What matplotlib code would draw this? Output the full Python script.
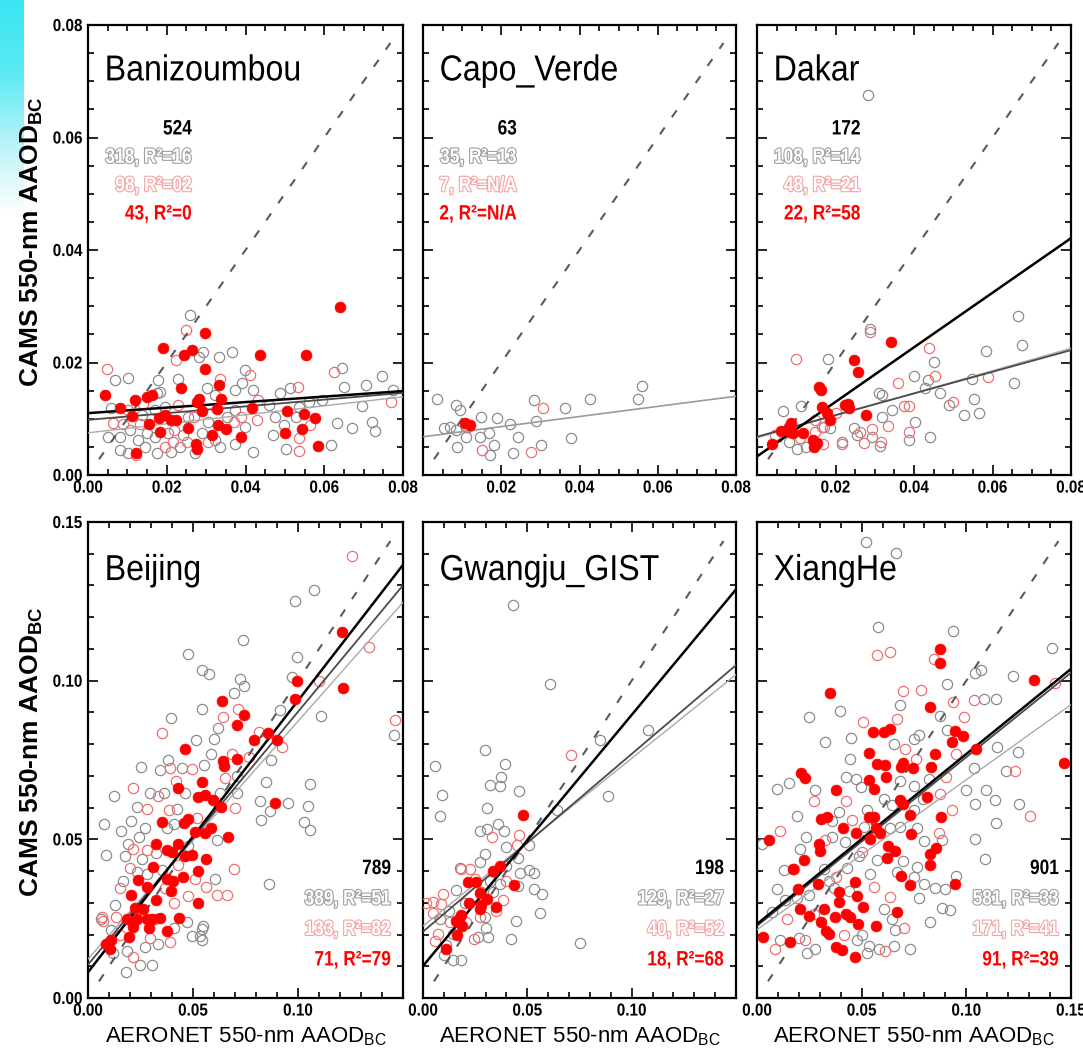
import numpy as np
import matplotlib
matplotlib.use("Agg")
import matplotlib.pyplot as plt
import matplotlib.patheffects as pe
from matplotlib.transforms import Affine2D
from matplotlib.ticker import MultipleLocator, FixedLocator
from matplotlib.colors import LinearSegmentedColormap

# ---------------- data ----------------
site_names = ["Banizoumbou", "Capo_Verde", "Dakar", "Beijing", "Gwangju_GIST", "XiangHe"]

bani_gray = [(0.0259,0.0284),(0.0365,0.0219),(0.0333,0.0210),(0.0293,0.0219),(0.0282,0.0210),(0.0102,0.0173),
             (0.0068,0.0169),(0.0228,0.0170),(0.0399,0.0187),(0.0645,0.0190),(0.0746,0.0176),(0.0705,0.0160),
             (0.0775,0.0151),(0.0650,0.0156),(0.0514,0.0154),(0.0488,0.0145),(0.0374,0.0151),(0.0420,0.0152),
             (0.0301,0.0154),(0.0183,0.0148),(0.0594,0.0133),(0.0696,0.0123),(0.0633,0.0092),(0.0671,0.0083),
             (0.0722,0.0095),(0.0729,0.0079),(0.0618,0.0053),(0.0471,0.0071),(0.0503,0.0046),(0.0420,0.0041),
             (0.0374,0.0056),(0.0323,0.0062),(0.0399,0.0086),(0.0476,0.0104),(0.0497,0.0089),(0.0081,0.0044),
             (0.0102,0.0039),(0.0127,0.0062),(0.0144,0.0050),(0.0174,0.0039),(0.0081,0.0068),(0.0051,0.0068),
             (0.0149,0.0074),(0.0106,0.0080),(0.0170,0.0068),(0.0204,0.0074),(0.0242,0.0071),(0.0289,0.0074),
             (0.0255,0.0104),(0.0306,0.0095),(0.0352,0.0104),(0.0374,0.0116),(0.0195,0.0121),(0.0170,0.0116),
             (0.0136,0.0107),(0.0059,0.0119),(0.0459,0.0124),(0.0535,0.0121),(0.0561,0.0130),(0.0527,0.0104),
             (0.0335,0.0050),(0.0234,0.0050),(0.0212,0.0041),(0.0272,0.0039),(0.0178,0.0169),(0.0174,0.0145),
             (0.0391,0.0163),(0.0323,0.0142)]
bani_pink = [(0.0248,0.0258),(0.0048,0.0188),(0.0223,0.0204),(0.0625,0.0184),(0.0533,0.0157),(0.0769,0.0129),
             (0.0411,0.0178),(0.0433,0.0133),(0.0229,0.0124),(0.0064,0.0092),(0.0089,0.0091),(0.0132,0.0091),
             (0.0219,0.0080),(0.0268,0.0104),(0.0370,0.0095),(0.0389,0.0104),(0.0429,0.0097),(0.0565,0.0089),
             (0.0195,0.0050),(0.0217,0.0059),(0.0251,0.0059),(0.0304,0.0059),(0.0537,0.0066),(0.0537,0.0043),
             (0.0334,0.0170),(0.0123,0.0036),(0.0102,0.0116),(0.0140,0.0127)]
bani_red = [(0.0639,0.0298),(0.0297,0.0253),(0.0191,0.0225),(0.0244,0.0213),(0.0265,0.0222),(0.0437,0.0213),
            (0.0554,0.0213),(0.0296,0.0188),(0.0044,0.0142),(0.0235,0.0155),(0.0333,0.0160),(0.0119,0.0133),
            (0.0151,0.0138),(0.0163,0.0142),(0.0082,0.0119),(0.0283,0.0136),(0.0276,0.0130),(0.0337,0.0135),
            (0.0113,0.0105),(0.0290,0.0114),(0.0327,0.0117),(0.0416,0.0120),(0.0505,0.0114),(0.0548,0.0108),
            (0.0576,0.0102),(0.0180,0.0101),(0.0195,0.0107),(0.0212,0.0098),(0.0223,0.0098),(0.0155,0.0090),
            (0.0330,0.0089),(0.0253,0.0083),(0.0351,0.0081),(0.0183,0.0077),(0.0316,0.0072),(0.0389,0.0068),
            (0.0501,0.0074),(0.0544,0.0081),(0.0274,0.0056),(0.0277,0.0047),(0.0584,0.0052),(0.0121,0.0040)]
bani_fit = [(0.0110, 0.049), (0.0098, 0.060), (0.0075, 0.080)]
bani_stats = ["524", "318, R\u00b2=16", "98, R\u00b2=02", "43, R\u00b2=0"]

capo_gray = [(0.0037,0.0136),(0.0084,0.0124),(0.0094,0.0116),(0.0054,0.0084),(0.0084,0.0080),(0.0086,0.0050),
             (0.0111,0.0068),(0.0148,0.0103),(0.0145,0.0068),(0.0169,0.0074),(0.0170,0.0036),(0.0182,0.0053),
             (0.0188,0.0101),(0.0223,0.0090),(0.0243,0.0067),(0.0230,0.0040),(0.0284,0.0133),(0.0288,0.0096),
             (0.0301,0.0053),(0.0362,0.0120),(0.0377,0.0066),(0.0428,0.0135),(0.0549,0.0136),(0.0561,0.0158),
             (0.0069,0.0086),(0.0111,0.0086)]
capo_pink = [(0.0307,0.0120),(0.0152,0.0044),(0.0275,0.0041),(0.0115,0.0086)]
capo_red = [(0.0107,0.0093),(0.0120,0.0089)]
capo_fit = [(0.0068, 0.090)]
capo_stats = ["63", "35, R\u00b2=13", "7, R\u00b2=N/A", "2, R\u00b2=N/A"]

dakar_gray = [(0.0665,0.0283),(0.0675,0.0232),(0.0584,0.0220),(0.0450,0.0201),(0.0401,0.0176),(0.0435,0.0169),
              (0.0465,0.0145),(0.0548,0.0171),(0.0656,0.0164),(0.0554,0.0136),(0.0565,0.0111),(0.0527,0.0107),
              (0.0488,0.0124),(0.0429,0.0154),(0.0310,0.0145),(0.0318,0.0142),(0.0344,0.0116),(0.0403,0.0095),
              (0.0442,0.0067),(0.0386,0.0062),(0.0318,0.0104),(0.0289,0.0260),(0.0180,0.0206),(0.0112,0.0123),
              (0.0066,0.0114),(0.0170,0.0086),(0.0187,0.0083),(0.0126,0.0050),(0.0102,0.0047),(0.0081,0.0059),
              (0.0255,0.0071),(0.0246,0.0083),(0.0314,0.0052),(0.0217,0.0059),(0.0293,0.0068),(0.0282,0.0676)]
dakar_pink = [(0.0100,0.0207),(0.0287,0.0255),(0.0439,0.0225),(0.0453,0.0176),(0.0358,0.0163),(0.0499,0.0130),
              (0.0588,0.0174),(0.0374,0.0123),(0.0386,0.0123),(0.0386,0.0077),(0.0333,0.0087),(0.0293,0.0081),
              (0.0263,0.0077),(0.0272,0.0057),(0.0316,0.0059),(0.0217,0.0055),(0.0168,0.0056),(0.0200,0.0110),
              (0.0149,0.0098),(0.0166,0.0086),(0.0149,0.0077),(0.0110,0.0065),(0.0047,0.0071)]
dakar_red = [(0.0341,0.0236),(0.0248,0.0204),(0.0257,0.0184),(0.0157,0.0157),(0.0163,0.0151),(0.0166,0.0121),
             (0.0178,0.0111),(0.0187,0.0097),(0.0231,0.0127),(0.0234,0.0119),(0.0278,0.0107),(0.0087,0.0092),
             (0.0085,0.0077),(0.0061,0.0079),(0.0092,0.0074),(0.0117,0.0075),(0.0143,0.0063),(0.0144,0.0050),
             (0.0038,0.0055),(0.0153,0.0057),(0.0225,0.0124),(0.0081,0.0086)]
dakar_fit = [(0.0033, 0.485), (0.0068, 0.1925), (0.0066, 0.199)]
dakar_stats = ["172", "108, R\u00b2=14", "48, R\u00b2=21", "22, R\u00b2=58"]

beij_gray = [(0.1078,0.1287),(0.0987,0.1251),(0.0736,0.1129),(0.0475,0.1083),(0.0545,0.1033),(0.0577,0.1022),
             (0.0995,0.1074),(0.0971,0.1011),(0.0725,0.1005),(0.0741,0.0983),(0.0693,0.0961),(0.0545,0.0912),
             (0.0393,0.0881),(0.0621,0.0851),(0.0513,0.0814),(0.0602,0.0815),(0.0586,0.0770),(0.0913,0.0906),
             (0.1110,0.0889),(0.1457,0.0828),(0.0873,0.0751),(0.0847,0.0681),(0.0820,0.0621),(0.0868,0.0588),
             (0.0952,0.0613),(0.1059,0.0674),(0.1046,0.0604),(0.1027,0.0555),(0.1056,0.0530),(0.0825,0.0560),
             (0.0863,0.0359),(0.0252,0.0729),(0.0342,0.0718),(0.0382,0.0751),(0.0446,0.0724),(0.0554,0.0735),
             (0.0124,0.0635),(0.0076,0.0547),(0.0088,0.0452),(0.0159,0.0526),(0.0207,0.0558),(0.0231,0.0602),
             (0.0295,0.0646),(0.0363,0.0646),(0.0422,0.0597),(0.0462,0.0646),(0.0411,0.0547),(0.0244,0.0508),
             (0.0175,0.0447),(0.0255,0.0437),(0.0326,0.0458),(0.0374,0.0536),(0.0271,0.0536),(0.0191,0.0486),
             (0.0231,0.0398),(0.0167,0.0370),(0.0283,0.0392),(0.0350,0.0403),(0.0478,0.0480),(0.0613,0.0497),
             (0.0605,0.0376),(0.0709,0.0646),(0.0629,0.0646),(0.0709,0.0701),(0.0549,0.0226),(0.0545,0.0182),
             (0.0470,0.0238),(0.0411,0.0221),(0.0334,0.0171),(0.0271,0.0160),(0.0188,0.0149),(0.0127,0.0292),
             (0.0207,0.0249),(0.0319,0.0249),(0.0111,0.0215),(0.0064,0.0249),(0.0180,0.0081),(0.0247,0.0103),
             (0.0303,0.0103),(0.0119,0.0141),(0.0533,0.0195),(0.0541,0.0219),(0.0494,0.0195)]
beij_pink = [(0.1258,0.1392),(0.1338,0.1105),(0.1099,0.0998),(0.1462,0.0876),(0.0815,0.0839),(0.0924,0.0792),
             (0.0768,0.0759),(0.0354,0.0834),(0.0642,0.0887),(0.0712,0.0912),(0.0688,0.0770),(0.0650,0.0692),
             (0.0497,0.0721),(0.0390,0.0724),(0.0417,0.0685),(0.0215,0.0663),(0.0283,0.0597),(0.0331,0.0635),
             (0.0385,0.0591),(0.0701,0.0600),(0.0518,0.0566),(0.0215,0.0469),(0.0279,0.0467),(0.0430,0.0420),
             (0.0199,0.0409),(0.0693,0.0405),(0.0510,0.0376),(0.0561,0.0350),(0.0154,0.0348),(0.0613,0.0324),
             (0.0661,0.0325),(0.0478,0.0320),(0.0411,0.0298),(0.0135,0.0254),(0.0151,0.0199),(0.0295,0.0188),
             (0.0067,0.0254),(0.0366,0.0348),(0.0390,0.0177),(0.0215,0.0129),(0.0072,0.0242)]
beij_red = [(0.1210,0.1152),(0.0995,0.0998),(0.1214,0.0976),(0.0987,0.0942),(0.0637,0.0937),(0.0744,0.0892),
            (0.0709,0.0860),(0.0792,0.0812),(0.0857,0.0834),(0.0900,0.0812),(0.0462,0.0784),(0.0642,0.0746),
            (0.0648,0.0731),(0.0709,0.0753),(0.0430,0.0661),(0.0541,0.0681),(0.0522,0.0633),(0.0557,0.0640),
            (0.0594,0.0624),(0.0632,0.0602),(0.0892,0.0613),(0.0354,0.0555),(0.0475,0.0563),(0.0459,0.0550),
            (0.0510,0.0523),(0.0557,0.0519),(0.0584,0.0536),(0.0666,0.0508),(0.0326,0.0486),(0.0377,0.0467),
            (0.0398,0.0461),(0.0427,0.0486),(0.0462,0.0447),(0.0497,0.0450),(0.0562,0.0437),(0.0311,0.0414),
            (0.0526,0.0400),(0.0377,0.0376),(0.0406,0.0370),(0.0451,0.0381),(0.0236,0.0372),(0.0283,0.0350),
            (0.0207,0.0325),(0.0395,0.0337),(0.0223,0.0284),(0.0263,0.0281),(0.0326,0.0309),(0.0526,0.0300),
            (0.0279,0.0249),(0.0307,0.0249),(0.0342,0.0251),(0.0433,0.0251),(0.0188,0.0250),(0.0231,0.0249),
            (0.0215,0.0223),(0.0290,0.0221),(0.0374,0.0210),(0.0194,0.0193),(0.0111,0.0182),(0.0088,0.0171),
            (0.0104,0.0154)]
beij_fit = [(0.0081, 0.856), (0.0105, 0.797), (0.0123, 0.749)]
beij_stats = ["789", "389, R\u00b2=51", "133, R\u00b2=82", "71, R\u00b2=79"]

gwan_gray = [(0.0432,0.1238),(0.0611,0.0990),(0.1076,0.0844),(0.0848,0.0813),(0.0888,0.0638),(0.0296,0.0783),
             (0.0056,0.0730),(0.0395,0.0737),(0.0373,0.0698),(0.0093,0.0641),(0.0323,0.0670),(0.0368,0.0668),
             (0.0080,0.0575),(0.0461,0.0652),(0.0309,0.0599),(0.0644,0.0594),(0.0275,0.0527),(0.0307,0.0531),
             (0.0360,0.0548),(0.0387,0.0525),(0.0296,0.0455),(0.0400,0.0477),(0.0456,0.0441),(0.0509,0.0483),
             (0.0507,0.0403),(0.0533,0.0393),(0.0531,0.0343),(0.0568,0.0328),(0.0560,0.0268),(0.0445,0.0244),
             (0.0424,0.0185),(0.0752,0.0173),(0.0176,0.0411),(0.0272,0.0429),(0.0160,0.0340),(0.0200,0.0298),
             (0.0125,0.0274),(0.0080,0.0250),(0.0144,0.0203),(0.0101,0.0137),(0.0144,0.0119),(0.0184,0.0119),
             (0.0264,0.0191),(0.0304,0.0221),(0.0312,0.0191),(0.0296,0.0256),(0.0336,0.0334),(0.0368,0.0358),
             (0.0464,0.0393),(0.0400,0.0417),(0.0320,0.0370),(0.0280,0.0334),(0.0112,0.0167),(0.0456,0.0352)]
gwan_pink = [(0.0709,0.0765),(0.0461,0.0513),(0.0449,0.0483),(0.0333,0.0507),(0.0184,0.0405),(0.0224,0.0405),
             (0.0248,0.0376),(0.0096,0.0328),(0.0048,0.0304),(0.0013,0.0298),(0.0088,0.0296),(0.0048,0.0268),
             (0.0400,0.0370),(0.0384,0.0310),(0.0352,0.0274),(0.0272,0.0256),(0.0208,0.0238),(0.0128,0.0238),
             (0.0056,0.0179),(0.0243,0.0185),(0.0072,0.0203)]
gwan_red = [(0.0480,0.0576),(0.0371,0.0417),(0.0336,0.0399),(0.0437,0.0355),(0.0216,0.0364),(0.0253,0.0364),
            (0.0272,0.0330),(0.0307,0.0312),(0.0219,0.0298),(0.0272,0.0280),(0.0352,0.0286),(0.0157,0.0244),
            (0.0184,0.0262),(0.0189,0.0227),(0.0163,0.0197),(0.0109,0.0155),(0.0173,0.0250),(0.0280,0.0292)]
gwan_fit = [(0.0101, 0.791), (0.0209, 0.560), (0.0227, 0.528)]
gwan_stats = ["198", "129, R\u00b2=27", "40, R\u00b2=52", "18, R\u00b2=68"]

xian_gray = [(0.0521,0.1436),(0.0666,0.1403),(0.0576,0.1168),(0.0936,0.1158),(0.1409,0.1102),(0.1221,0.1014),
             (0.1070,0.1035),(0.1043,0.1024),(0.1143,0.0941),(0.1083,0.0941),(0.0908,0.0989),(0.0685,0.0922),
             (0.0873,0.0889),(0.0247,0.0887),(0.0398,0.0904),(0.0323,0.0806),(0.0451,0.0820),(0.0772,0.0828),
             (0.0908,0.0845),(0.1247,0.0776),(0.1146,0.0790),(0.1038,0.0726),(0.1191,0.0715),(0.1000,0.0657),
             (0.1096,0.0657),(0.1250,0.0611),(0.1139,0.0624),(0.1043,0.0611),(0.1143,0.0552),(0.1043,0.0502),
             (0.1091,0.0438),(0.0446,0.0753),(0.0475,0.0690),(0.0096,0.0659),(0.0151,0.0677),(0.0279,0.0655),
             (0.0191,0.0574),(0.0427,0.0696),(0.0498,0.0666),(0.0605,0.0626),(0.0645,0.0607),(0.0748,0.0591),
             (0.0793,0.0626),(0.0236,0.0508),(0.0358,0.0508),(0.0422,0.0491),(0.0510,0.0538),(0.0685,0.0538),
             (0.0764,0.0536),(0.0796,0.0494),(0.0884,0.0497),(0.0024,0.0486),(0.0207,0.0469),(0.0486,0.0447),
             (0.0573,0.0436),(0.0696,0.0431),(0.0764,0.0414),(0.0430,0.0409),(0.0318,0.0405),(0.0127,0.0403),
             (0.0748,0.0381),(0.0796,0.0359),(0.0852,0.0348),(0.0900,0.0344),(0.0952,0.0386),(0.0772,0.0315),
             (0.0884,0.0284),(0.0924,0.0276),(0.0825,0.0239),(0.0729,0.0154),(0.0661,0.0215),(0.0533,0.0165),
             (0.0502,0.0199),(0.0653,0.0165),(0.0581,0.0154),(0.0096,0.0342),(0.0072,0.0270),(0.0135,0.0309),
             (0.0191,0.0315),(0.0247,0.0326),(0.0342,0.0370),(0.0111,0.0182),(0.0279,0.0154),(0.0199,0.0188),
             (0.0478,0.0182),(0.0605,0.0281),(0.0645,0.0248),(0.0669,0.0398),(0.0541,0.0392),(0.0366,0.0348),
             (0.0438,0.0337),(0.0637,0.0536),(0.0390,0.0585),(0.0525,0.0591),(0.0358,0.0558),(0.0748,0.0668),
             (0.0685,0.0685),(0.0820,0.0690),(0.0748,0.0817),(0.0653,0.0801),(0.0239,0.0143),(0.0525,0.0143)]
xian_pink = [(0.0573,0.1082),(0.0637,0.1090),(0.0844,0.1068),(0.1425,0.0994),(0.0697,0.0967),(0.0783,0.0972),
             (0.1038,0.0939),(0.0936,0.0933),(0.0506,0.0869),(0.0669,0.0880),(0.0990,0.0886),(0.0705,0.0784),
             (0.0761,0.0753),(0.0952,0.0770),(0.0903,0.0698),(0.1234,0.0715),(0.0427,0.0622),(0.0271,0.0621),
             (0.0873,0.0644),(0.0932,0.0593),(0.1303,0.0574),(0.0108,0.0525),(0.0454,0.0560),(0.0326,0.0499),
             (0.0868,0.0519),(0.0175,0.0405),(0.0502,0.0460),(0.0379,0.0381),(0.0561,0.0350),(0.0637,0.0317),
             (0.0143,0.0248),(0.0271,0.0265),(0.0231,0.0184),(0.0088,0.0154),(0.0613,0.0147),(0.0701,0.0221),
             (0.0414,0.0199)]
xian_red = [(0.1322,0.1003),(0.0873,0.1101),(0.0876,0.1057),(0.1465,0.0740),(0.0347,0.0961),(0.0825,0.0917),
            (0.0553,0.0837),(0.0605,0.0837),(0.0634,0.0848),(0.0947,0.0842),(0.0932,0.0806),(0.0984,0.0825),
            (0.1048,0.0784),(0.0537,0.0771),(0.0573,0.0738),(0.0613,0.0734),(0.0618,0.0696),(0.0689,0.0727),
            (0.0696,0.0742),(0.0745,0.0726),(0.0831,0.0729),(0.0849,0.0770),(0.0533,0.0688),(0.0557,0.0659),
            (0.0210,0.0710),(0.0231,0.0694),(0.0377,0.0657),(0.0682,0.0624),(0.0696,0.0610),(0.0812,0.0632),
            (0.0732,0.0576),(0.0879,0.0571),(0.0306,0.0563),(0.0334,0.0571),(0.0411,0.0536),(0.0475,0.0519),
            (0.0533,0.0571),(0.0561,0.0571),(0.0570,0.0536),(0.0589,0.0519),(0.0541,0.0502),(0.0737,0.0516),
            (0.0056,0.0499),(0.0295,0.0486),(0.0303,0.0464),(0.0626,0.0480),(0.0658,0.0464),(0.0621,0.0442),
            (0.0825,0.0455),(0.0857,0.0473),(0.0825,0.0420),(0.0226,0.0436),(0.0172,0.0405),(0.0291,0.0359),
            (0.0196,0.0344),(0.0393,0.0333),(0.0470,0.0364),(0.0478,0.0323),(0.0688,0.0384),(0.0729,0.0356),
            (0.0944,0.0359),(0.0207,0.0279),(0.0247,0.0259),(0.0322,0.0279),(0.0306,0.0239),(0.0371,0.0256),
            (0.0393,0.0301),(0.0427,0.0265),(0.0443,0.0254),(0.0481,0.0234),(0.0506,0.0287),(0.0669,0.0270),
            (0.0331,0.0210),(0.0342,0.0202),(0.0159,0.0176),(0.0029,0.0193),(0.0379,0.0160),(0.0406,0.0151),
            (0.0470,0.0129),(0.0568,0.0226)]
xian_fit = [(0.0233, 0.536), (0.0227, 0.532), (0.0215, 0.473)]
xian_stats = ["901", "581, R\u00b2=33", "171, R\u00b2=41", "91, R\u00b2=39"]

top_limit = 0.08
bottom_limit = 0.15
top_ticks = [0.00, 0.02, 0.04, 0.06, 0.08]
bottom_ticks = [0.00, 0.05, 0.10, 0.15]

# ---------------- style ----------------
SANS = "Liberation Sans"
plt.rcParams["font.family"] = [SANS, "DejaVu Sans"]
plt.rcParams["mathtext.fontset"] = "custom"
plt.rcParams["mathtext.rm"] = SANS
plt.rcParams["mathtext.bf"] = SANS + ":bold"
plt.rcParams["mathtext.it"] = SANS + ":italic"

GRAY_MK = "#8c8c8c"
PINK_MK = "#f07070"
RED = "#ff0000"
GRAY_TXT = "#a0a0a0"
PINK_TXT = "#f4a4a4"
FIT_STYLES = [("#000000", 1.8), ("#4a4a4a", 1.3), ("#aaaaaa", 1.0)]


class Squeeze(pe.AbstractPathEffect):
    """Horizontally condense text about an anchor x (display px), optional outline."""

    def __init__(self, sx, x0, stroke=None, lw=1.0):
        super().__init__()
        self.sx, self.x0, self.stroke, self.lw = sx, x0, stroke, lw

    def draw_path(self, renderer, gc, tpath, affine, rgbFace=None):
        aff = affine + Affine2D().translate(-self.x0, 0).scale(self.sx, 1).translate(self.x0, 0)
        if self.stroke is not None:
            gc0 = renderer.new_gc()
            gc0.copy_properties(gc)
            gc0.set_foreground(self.stroke)
            gc0.set_linewidth(self.lw)
            renderer.draw_path(gc0, tpath, aff, rgbFace)
            gc0.restore()
        renderer.draw_path(gc, tpath, aff, rgbFace)


W, H = 1083, 1054
fig = plt.figure(figsize=(W / 100, H / 100), dpi=100)
fig.patch.set_facecolor("white")

# cyan decoration in upper-left corner
deco = fig.add_axes([0, 1 - 215 / H, 24 / W, 215 / H])
deco.axis("off")
cmap = LinearSegmentedColormap.from_list("cy", ["#39e6f2", "#5aeaf4", "#b9f3f8", "#ffffff"])
deco.imshow(np.linspace(0, 1, 200)[:, None], cmap=cmap, aspect="auto", extent=[0, 1, 0, 1])

cols = [(88, 403), (423, 736), (757, 1071)]
rows = [(25, 475), (522, 998)]


def rect(l, r, t, b):
    return [l / W, 1 - b / H, (r - l) / W, (b - t) / H]


panels = [
    (site_names[0], bani_gray, bani_pink, bani_red, bani_fit, bani_stats),
    (site_names[1], capo_gray, capo_pink, capo_red, capo_fit, capo_stats),
    (site_names[2], dakar_gray, dakar_pink, dakar_red, dakar_fit, dakar_stats),
    (site_names[3], beij_gray, beij_pink, beij_red, beij_fit, beij_stats),
    (site_names[4], gwan_gray, gwan_pink, gwan_red, gwan_fit, gwan_stats),
    (site_names[5], xian_gray, xian_pink, xian_red, xian_fit, xian_stats),
]

TICKFONT = dict(weight="bold", size=12.5)
squeeze_list = []   # (text, factor, anchor, stroke, lw)
axes = []

for i, (name, gray, pink, red, fits, stats) in enumerate(panels):
    r, c = divmod(i, 3)
    l, rr = cols[c]
    t, b = rows[r]
    ax = fig.add_axes(rect(l, rr, t, b))
    axes.append((ax, r, c))
    lim = top_limit if r == 0 else bottom_limit
    ax.set_xlim(0, lim)
    ax.set_ylim(0, lim)

    gx, gy = zip(*gray)
    ax.plot(gx, gy, "o", ms=7.4, mfc="none", mec=GRAY_MK, mew=0.9, zorder=2)
    px, py = zip(*pink)
    ax.plot(px, py, "o", ms=7.4, mfc="none", mec=PINK_MK, mew=0.9, zorder=3)

    # 1:1 line
    ax.plot([lim * 0.035, lim * 0.96], [lim * 0.035, lim * 0.96], color="#5a5a5a",
            lw=1.5, dashes=(4, 6), zorder=4)
    # regression lines
    xs = np.array([0, lim])
    if len(fits) == 1:
        b0, m = fits[0]
        ax.plot(xs, b0 + m * xs, color="#9a9a9a", lw=1.2, zorder=4)
    else:
        for (b0, m), (colr, lw) in reversed(list(zip(fits, FIT_STYLES))):
            ax.plot(xs, b0 + m * xs, color=colr, lw=lw, zorder=4)

    rx, ry = zip(*red)
    ax.plot(rx, ry, "o", ms=7.8, mfc=RED, mec=RED, mew=0.5, zorder=5)

    # ticks
    minor = 0.005 if r == 0 else 0.01
    ticks = top_ticks if r == 0 else bottom_ticks
    ax.xaxis.set_major_locator(FixedLocator(ticks))
    ax.yaxis.set_major_locator(FixedLocator(ticks))
    ax.xaxis.set_minor_locator(MultipleLocator(minor))
    ax.yaxis.set_minor_locator(MultipleLocator(minor))
    ax.tick_params(which="both", direction="in", top=True, right=True, width=1.2, colors="black")
    ax.tick_params(which="major", length=7)
    ax.tick_params(which="minor", length=4)
    for sp in ax.spines.values():
        sp.set_linewidth(1.6)

    labels = ["%.2f" % v for v in ticks]
    xl = list(labels)
    if r == 0 and c > 0:
        xl[0] = ""
    if r == 1 and c < 2:
        xl[-1] = ""
    ax.set_xticklabels(xl, fontdict=TICKFONT)
    if c == 0:
        ax.set_yticklabels(labels, fontdict=TICKFONT)
    else:
        ax.set_yticklabels([])
    ax.tick_params(axis="x", pad=4)
    ax.tick_params(axis="y", pad=4)

    # site title
    tt = ax.text(0.053, 0.898, name, transform=ax.transAxes, ha="left", va="center",
                 fontsize=26, color="black", zorder=6)
    squeeze_list.append((tt, 0.89, "left", None, 0))

    # statistics
    if r == 0:
        xr = 0.30 if c == 1 else 0.33
        ys = [0.769, 0.706, 0.643, 0.580]
    else:
        xr = 0.962
        ys = [0.272, 0.208, 0.144, 0.080]
    colors = ["black", GRAY_TXT, PINK_TXT, RED]
    for s, yy, colr in zip(stats, ys, colors):
        if colr in (GRAY_TXT, PINK_TXT):
            tx = ax.text(xr, yy, s, transform=ax.transAxes, ha="right", va="center",
                         fontsize=15, weight="bold", color="white", zorder=6)
            squeeze_list.append((tx, 0.83, "right", colr, 1.6))
        else:
            tx = ax.text(xr, yy, s, transform=ax.transAxes, ha="right", va="center",
                         fontsize=15, weight="bold", color=colr, zorder=6)
            squeeze_list.append((tx, 0.83, "right", None, 0))

    if r == 1:
        ax.set_xlabel(r"AERONET 550-nm AAOD$_{\mathrm{BC}}$", fontsize=16, labelpad=5)

# y labels
for (t, b) in rows:
    fig.text(32 / W, 1 - ((t + b) / 2 - 8) / H, r"CAMS 550-nm AAOD$_{\mathbf{BC}}$",
             rotation=90, ha="center", va="center", fontsize=19, weight="bold")

# first pass to find positions, then condense selected texts
fig.canvas.draw()
renderer = fig.canvas.get_renderer()
for ax, r, c in axes:
    for lab in ax.get_xticklabels():
        if lab.get_text():
            squeeze_list.append((lab, 0.88, "center", None, 0))
    for lab in ax.get_yticklabels():
        if lab.get_text():
            squeeze_list.append((lab, 0.88, "right", None, 0))

for txt, fac, anchor, stroke, lw in squeeze_list:
    bb = txt.get_window_extent(renderer)
    x0 = {"left": bb.x0, "right": bb.x1, "center": 0.5 * (bb.x0 + bb.x1)}[anchor]
    txt.set_path_effects([Squeeze(fac, x0, stroke, lw)])

fig.savefig("out.png", dpi=100, facecolor="white")
